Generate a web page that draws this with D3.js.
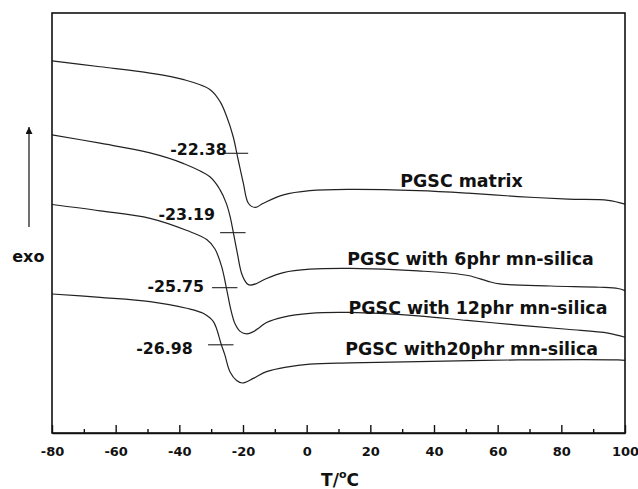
<!DOCTYPE html>
<html><head><meta charset="utf-8">
<script src="https://cdn.jsdelivr.net/npm/d3@7"></script>
<style>body{margin:0;background:#fff}svg{display:block}</style>
</head><body>
<script>
// ---- data (T in °C, heat flow in arbitrary units, exo up) ----
const seriesNames = ["PGSC matrix", "PGSC with 6phr mn-silica", "PGSC with 12phr mn-silica", "PGSC with20phr mn-silica"];
const matrixCurve = [[-80,88.6],[-64.9,87.2],[-49.2,85.7],[-38.9,84.2],[-30.4,81.8],[-27.2,78.9],[-25.1,75.3],[-23.1,70.6],[-21.5,65.0],[-19.9,59.5],[-18.3,54.7],[-16.2,53.7],[-13.6,54.7],[-7.3,56.7],[1.0,57.7],[13.6,58.0],[35.0,57.7],[50.7,57.1],[66.4,56.3],[82.1,55.7],[94.7,55.4],[100,54.5]];
const phr6Curve = [[-80,71.0],[-64.9,69.0],[-49.2,66.7],[-38.8,64.2],[-30.4,61.0],[-27.2,57.9],[-25.3,54.8],[-24.1,51.7],[-23.0,47.6],[-21.8,42.9],[-20.4,37.9],[-18.8,35.6],[-17.8,35.2],[-15.7,35.6],[-12.6,36.8],[-7.3,38.2],[1.0,39.0],[13.6,39.2],[35.0,38.6],[50.7,37.5],[57.0,36.1],[60.7,35.5],[76.8,35.0],[92.1,34.7],[97.8,34.4],[100,33.9]];
const phr12Curve = [[-80,54.4],[-64.9,52.9],[-49.2,51.1],[-37.6,48.2],[-31.3,46.0],[-28.8,43.8],[-26.7,39.6],[-25.1,34.1],[-23.8,29.3],[-22.5,26.0],[-20.9,24.2],[-18.8,23.6],[-16.8,24.1],[-14.7,25.2],[-12.6,26.3],[-7.3,27.6],[1.0,28.5],[13.6,28.7],[35.0,27.9],[50.4,26.8],[66.4,25.7],[81.8,24.7],[94.7,23.8],[100,22.8]];
const phr20Curve = [[-80,33.1],[-64.9,32.3],[-49.2,31.3],[-37.7,29.7],[-32.5,28.5],[-29.3,26.5],[-26.8,21.0],[-25.7,18.6],[-24.1,14.6],[-22.0,12.5],[-20.2,11.9],[-16.8,13.0],[-12.6,14.6],[-6.3,15.7],[1.0,16.4],[13.6,16.7],[35.0,17.0],[66.4,17.4],[97.8,17.4],[100,17.3]];
const glassTemps = [-22.38, -23.19, -25.75, -26.98];
const glassLevels = [66.6, 47.7, 34.6, 21.0];
const xTicks = [-80, -60, -40, -20, 0, 20, 40, 60, 80, 100];
const xMinorTicks = [-70, -50, -30, -10, 10, 30, 50, 70, 90];

// ---- layout ----
const W = 638, H = 489;
const M = {left: 52, right: 625, top: 13, bottom: 433};
const seriesLabelPos = [[461.5, 186.7], [470.5, 265], [478, 314], [471.7, 355]]; // px: center x, baseline
const tgLabelOffset = [[-8.7, 1.3], [-17.8, -12.9], [-20.6, 4.8], [-28.1, 9.1]];  // px from (Tg, level)
const FONT = "'DejaVu Sans', sans-serif";

const svg = d3.select("body").append("svg").attr("width", W).attr("height", H);
const x = d3.scaleLinear().domain([-80, 100]).range([M.left, M.right]);
const y = d3.scaleLinear().domain([0, 100]).range([M.bottom, M.top]);

const curves = [matrixCurve, phr6Curve, phr12Curve, phr20Curve];
const line = d3.line().x(d => x(d[0])).y(d => y(d[1])).curve(d3.curveCatmullRom.alpha(0.5));

svg.append("g").selectAll("path").data(curves).join("path")
  .attr("d", line).attr("fill", "none").attr("stroke", "#222").attr("stroke-width", 1.2);

// Tg markers
svg.append("g").selectAll("line").data(glassTemps).join("line")
  .attr("x1", d => x(d - 4)).attr("x2", d => x(d + 4))
  .attr("y1", (d, i) => y(glassLevels[i])).attr("y2", (d, i) => y(glassLevels[i]))
  .attr("stroke", "#222").attr("stroke-width", 1.1);
svg.append("g").selectAll("text").data(glassTemps).join("text")
  .attr("x", (d, i) => x(d) + tgLabelOffset[i][0])
  .attr("y", (d, i) => y(glassLevels[i]) + tgLabelOffset[i][1])
  .attr("text-anchor", "end").attr("font-family", FONT).attr("font-weight", "bold")
  .attr("font-size", 15.8).attr("fill", "#111").text(d => d.toFixed(2));

// series labels
svg.append("g").selectAll("text").data(seriesNames).join("text")
  .attr("x", (d, i) => seriesLabelPos[i][0]).attr("y", (d, i) => seriesLabelPos[i][1])
  .attr("text-anchor", "middle").attr("font-family", FONT).attr("font-weight", "bold")
  .attr("font-size", 17.4).attr("fill", "#111").text(d => d);

// frame
svg.append("rect").attr("x", M.left).attr("y", M.top)
  .attr("width", M.right - M.left).attr("height", M.bottom - M.top)
  .attr("fill", "none").attr("stroke", "#111").attr("stroke-width", 1.6);

// x axis
const gx = svg.append("g").attr("transform", `translate(0,${M.bottom})`)
  .call(d3.axisBottom(x).tickValues(xTicks).tickSizeInner(-8).tickSizeOuter(0).tickPadding(14).tickFormat(d => String(d)));
gx.select(".domain").attr("stroke", "#111").attr("stroke-width", 1.6);
gx.selectAll(".tick line").attr("stroke", "#111").attr("stroke-width", 1.4);
gx.selectAll(".tick text").attr("font-family", FONT).attr("font-weight", "bold")
  .attr("font-size", 13).attr("fill", "#111");
const gm = svg.append("g").attr("transform", `translate(0,${M.bottom})`)
  .call(d3.axisBottom(x).tickValues(xMinorTicks).tickSizeInner(-4).tickSizeOuter(0).tickFormat(""));
gm.select(".domain").remove();
gm.selectAll(".tick line").attr("stroke", "#111").attr("stroke-width", 1.4);

// x title
const xt = svg.append("text").attr("x", 340).attr("y", 486).attr("text-anchor", "middle")
  .attr("font-family", FONT).attr("font-weight", "bold").attr("font-size", 17).attr("fill", "#111");
xt.append("tspan").text("T/");
xt.append("tspan").attr("font-size", 11).attr("dy", -8).text("o");
xt.append("tspan").attr("dy", 8).text("C");

// exo arrow
svg.append("defs").append("marker").attr("id", "ah").attr("viewBox", "0 0 10 10")
  .attr("refX", 10).attr("refY", 5).attr("markerWidth", 11).attr("markerHeight", 7)
  .attr("markerUnits", "userSpaceOnUse").attr("orient", "auto")
  .append("path").attr("d", "M0,0L10,5L0,10Z").attr("fill", "#111");
svg.append("line").attr("x1", 29).attr("x2", 29).attr("y1", 227).attr("y2", 127)
  .attr("stroke", "#333").attr("stroke-width", 1.4).attr("marker-end", "url(#ah)");
svg.append("text").attr("x", 28.3).attr("y", 262.3).attr("text-anchor", "middle")
  .attr("font-family", FONT).attr("font-weight", "bold").attr("font-size", 16).attr("fill", "#111").text("exo");
</script>
</body></html>
